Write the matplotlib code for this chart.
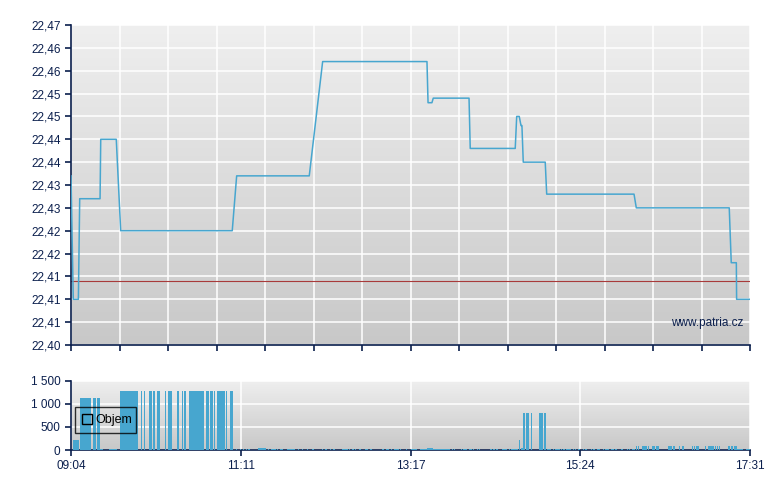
import numpy as np
import matplotlib
matplotlib.use('Agg')
import matplotlib.pyplot as plt
from matplotlib.patches import Patch

plt.rcParams['font.family'] = ['Liberation Sans', 'DejaVu Sans']

# časová osa v minutách od 09:04
cas_zacatek = 0
cas_konec = 507
popisky_casu = ['09:04', '11:11', '13:17', '15:24', '17:31']

# cena - body lomené čáry (minuta, cena)
cena_cas = [0, 1.7, 5.5, 6.5, 21.7, 22.2, 33.8, 37.1, 120.4, 123.7, 177.9, 187.9,
            265.8, 266.6, 269.5, 270.5, 297.2, 298.1, 331.7, 332.8, 334.7, 336.0,
            336.7, 337.7, 354.1, 355.2, 420.4, 422.1, 491.5, 493.0, 496.8, 497.0, 507]
cena = [22.437, 22.410, 22.410, 22.432, 22.432, 22.445, 22.445, 22.425, 22.425, 22.437, 22.437, 22.462,
        22.462, 22.453, 22.453, 22.454, 22.454, 22.443, 22.443, 22.450, 22.450, 22.448,
        22.448, 22.440, 22.440, 22.433, 22.433, 22.430, 22.430, 22.418, 22.418, 22.410, 22.410]
predchozi_zaverecna = 22.414

cena_ticky = [22.400, 22.405, 22.410, 22.415, 22.420, 22.425, 22.430, 22.435,
              22.440, 22.445, 22.450, 22.455, 22.460, 22.465, 22.470]
cena_popisky = ['22,40', '22,41', '22,41', '22,41', '22,42', '22,42', '22,43', '22,43',
                '22,44', '22,44', '22,45', '22,45', '22,46', '22,46', '22,47']

# objem - velké sloupce (začátek, konec v minutách, výška)
objem_od = [1.3, 6.7, 16.4, 19.4, 36.6, 52.3, 54.3, 58.0, 61.2, 64.2, 70.2, 72.4, 79.1, 82.9,
            84.4, 88.1, 100.8, 103.8, 107.0, 109.0, 116.1, 118.7,
            334.5, 336.0, 337.5, 339.7, 343.2, 349.4, 353.2]
objem_do = [6.0, 14.9, 18.3, 21.5, 49.7, 53.2, 55.6, 60.3, 62.7, 66.5, 70.9, 75.4, 80.6, 83.6,
            85.9, 99.3, 102.7, 106.0, 107.7, 115.0, 116.8, 120.7,
            335.0, 337.3, 339.0, 341.7, 344.0, 352.2, 354.4]
objem = [220, 1120, 1120, 1120, 1270, 1270, 1270, 1270, 1270, 1270, 1270, 1270, 1270, 1270,
         1270, 1270, 1270, 1270, 1270, 1270, 1270, 1270,
         216, 45, 800, 800, 800, 800, 800]

# objem - drobné obchody
male_od = [21.7, 28.6, 123.2, 126.1, 128.4, 130.7, 132.2, 139.6, 147.1, 149.4, 153.8, 156.0,
           161.3, 169.5, 172.5, 176.2, 179.9, 187.4, 189.6, 193.4, 195.6, 202.3, 207.6, 209.8,
           212.0, 215.0, 219.5, 223.3, 232.2, 235.2, 238.9, 241.2, 245.6, 250.1, 253.9, 260.6,
           265.8, 270.3, 284.5, 286.0, 291.2, 292.7, 297.2, 300.2, 303.1, 304.6, 312.9, 315.1,
           317.3, 321.8, 327.0, 328.5, 355.2, 356.9, 359.9, 361.4, 365.9, 367.4, 369.6, 374.8,
           376.3, 378.6, 382.3, 383.8, 388.3, 389.8, 392.7, 397.2, 398.7, 403.2, 406.2, 410.7,
           415.1, 416.6, 418.9,
           421.9, 423.6, 426.3, 430.8, 433.8, 436.8, 445.8, 449.6, 454.0, 456.3, 463.8, 465.3,
           466.7, 473.4, 475.7, 480.9, 482.4, 483.9, 490.6, 492.8, 495.1, 497.3, 504.0]
male_do = [23.7, 34.1, 124.0, 126.9, 129.2, 131.4, 133.7, 145.6, 147.8, 153.1, 154.6, 158.3,
           167.3, 170.2, 173.2, 177.0, 181.4, 188.2, 191.1, 194.1, 197.1, 206.8, 208.3, 211.3,
           212.8, 216.5, 221.8, 224.7, 233.7, 237.4, 239.7, 244.9, 246.4, 250.9, 258.3, 265.8,
           270.3, 283.0, 285.2, 286.7, 291.9, 295.7, 299.4, 300.9, 303.9, 305.4, 314.3, 316.6,
           318.8, 325.5, 327.8, 333.8, 356.6, 358.4, 360.6, 365.1, 366.6, 368.8, 373.3, 375.6,
           377.1, 380.0, 383.0, 385.3, 389.0, 391.3, 395.0, 397.9, 401.7, 405.4, 407.6, 412.2,
           415.9, 417.4, 421.1,
           422.6, 424.3, 430.1, 431.6, 436.1, 439.3, 448.8, 451.1, 454.8, 457.8, 464.5, 466.0,
           469.0, 474.2, 480.1, 481.7, 483.1, 484.6, 492.1, 494.3, 497.3, 501.8, 507.0]
male_objem = [25, 25, 25, 25, 25, 25, 25, 45, 25, 25, 25, 25,
              25, 25, 25, 25, 25, 25, 25, 25, 25, 25, 25, 25,
              25, 25, 25, 25, 25, 25, 25, 25, 25, 25, 25, 25,
              45, 25, 25, 25, 25, 25, 25, 25, 25, 25, 25, 25,
              25, 25, 25, 25, 25, 25, 25, 25, 25, 25, 25, 25,
              25, 25, 25, 25, 25, 25, 25, 25, 25, 25, 25, 25,
              25, 25, 25,
              90, 90, 90, 90, 90, 90, 90, 90, 90, 90, 90, 90,
              90, 90, 90, 90, 90, 90, 90, 90, 90, 30, 30]

objem_ticky = [0, 500, 1000, 1500]
objem_popisky = ['0', '500', '1 000', '1 500']

navy = '#0b1f4d'
modra = '#47a6cf'


def pozadi(ax):
    # svislý přechod z světle šedé do tmavší
    grad = np.linspace(1, 0, 256).reshape(-1, 1)
    ax.imshow(grad, extent=[0, 1, 0, 1], transform=ax.transAxes, aspect='auto',
              cmap=matplotlib.colors.LinearSegmentedColormap.from_list('g', ['#c8c8c8', '#efefef']),
              zorder=0)
    for s in ['top', 'right']:
        ax.spines[s].set_visible(False)
    for s in ['left', 'bottom']:
        ax.spines[s].set_color(navy)
        ax.spines[s].set_linewidth(1.2)
    ax.tick_params(colors=navy, labelcolor=navy, labelsize=8.5, length=4, width=1.2, direction='out')
    ax.grid(True, color='white', linewidth=1.1, zorder=1)
    ax.set_axisbelow(True)


fig = plt.figure(figsize=(7.8, 4.9), dpi=100)

# 1. graf ceny
ax1 = fig.add_axes([71 / 780, 1 - 345 / 490, 679 / 780, 320 / 490])
pozadi(ax1)
ax1.plot(cena_cas, cena, color=modra, linewidth=1.1, zorder=3)
ax1.axhline(predchozi_zaverecna, color='#a83a3a', linewidth=0.8, zorder=2)
ax1.set_xlim(cas_zacatek, cas_konec)
ax1.set_ylim(cena_ticky[0], cena_ticky[-1])
ax1.set_yticks(cena_ticky)
ax1.set_yticklabels(cena_popisky)
ax1.set_xticks(np.linspace(cas_zacatek, cas_konec, 15))
ax1.set_xticklabels([])
ax1.text(0.99, 0.068, 'www.patria.cz', transform=ax1.transAxes, ha='right', va='center',
         color=navy, fontsize=8.5, zorder=4)

# 2. graf objemu
ax2 = fig.add_axes([71 / 780, 1 - 450 / 490, 679 / 780, 69.3 / 490])
pozadi(ax2)
ax2.bar(objem_od, objem, width=np.array(objem_do) - np.array(objem_od),
        align='edge', color=modra, linewidth=0, zorder=3)
ax2.bar(male_od, male_objem, width=np.array(male_do) - np.array(male_od),
        align='edge', color=modra, linewidth=0, zorder=3)
ax2.set_xlim(cas_zacatek, cas_konec)
ax2.set_ylim(0, 1500)
ax2.set_yticks(objem_ticky)
ax2.set_yticklabels(objem_popisky)
ax2.set_xticks(np.linspace(cas_zacatek, cas_konec, 5))
ax2.set_xticklabels(popisky_casu)

leg = ax2.legend(handles=[Patch(facecolor='none', edgecolor='black', linewidth=1, label='Objem')],
                 loc='lower left', bbox_to_anchor=(0.006, 0.245, 0.09, 0.4), mode='expand',
                 fontsize=9, frameon=True, fancybox=False, borderpad=0.55,
                 handlelength=0.8, handleheight=0.8, handletextpad=0.3, borderaxespad=0)
leg.get_frame().set_edgecolor('black')
leg.get_frame().set_facecolor('none')
leg.get_frame().set_linewidth(1)
leg.set_zorder(5)

plt.savefig('out.png', dpi=100)
